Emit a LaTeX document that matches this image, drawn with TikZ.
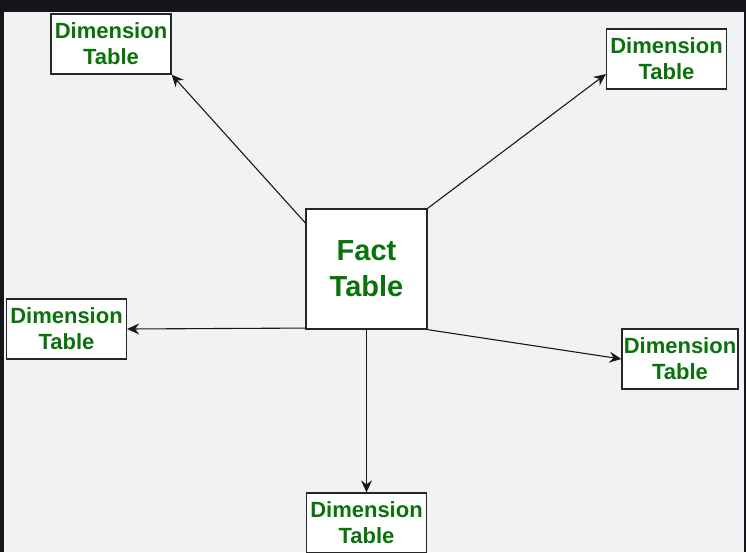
\documentclass[tikz,border=0pt]{standalone}
\usepackage{fontspec}
\setmainfont{Liberation Sans}
\usetikzlibrary{arrows.meta}
\definecolor{frame}{HTML}{15161A}
\definecolor{canvas}{HTML}{F1F2F4}
\definecolor{label}{HTML}{0A720A}
\begin{document}
\begin{tikzpicture}[x=1pt,y=-1pt,
  tablebox/.style={draw=black!85, line width=1.3pt, fill=white, inner sep=0pt,
    align=center, text=label},
  dimbox/.style={tablebox, minimum width=120pt, minimum height=60pt,
    font=\fontsize{22}{26}\selectfont\bfseries},
  factbox/.style={tablebox, minimum width=121pt, minimum height=120pt,
    font=\fontsize{29}{36}\selectfont\bfseries},
  link/.style={draw=black!90, line width=1.1pt,
    -{Stealth[length=12pt,width=11pt,inset=4pt]}}]
  % page and canvas
  \fill[frame] (0,0) rectangle (746,552);
  \useasboundingbox (0,0) rectangle (746,552);
  \clip (0,0) rectangle (746,552);
  \fill[canvas] (4,12) rectangle (744,552);

  % tables
  \node[factbox] (fact) at (366.5,269) {Fact\\Table};
  \node[dimbox] (tl)  at (111,44)    {Dimension\\Table};
  \node[dimbox] (tr)  at (666.5,59)  {Dimension\\Table};
  \node[dimbox] (lft) at (66.5,329)  {Dimension\\Table};
  \node[dimbox, minimum width=116pt] (rt) at (680,359) {Dimension\\Table};
  \node[dimbox] (bot) at (366.5,523) {Dimension\\Table};

  % links from the fact table
  \draw[link] (fact.143) -- (tl.south east);
  \draw[link] (fact.north east) -- (tr.194);
  \draw[link] (fact.224) -- (lft.east);
  \draw[link] (fact.south east) -- (rt.west);
  \draw[link] (fact.south) -- (bot.north);
\end{tikzpicture}
\end{document}
